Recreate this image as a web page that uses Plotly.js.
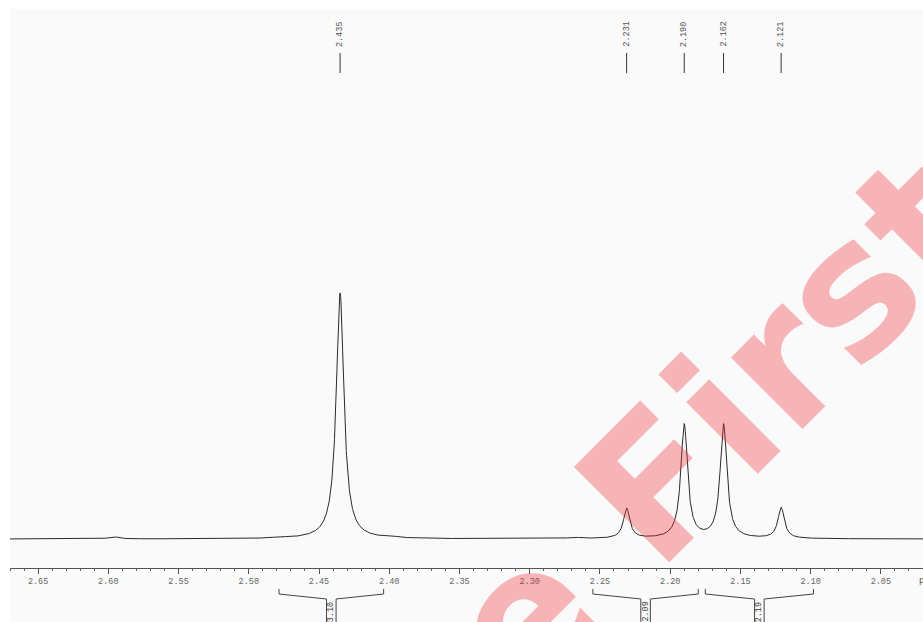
<!DOCTYPE html>
<html>
<head>
<meta charset="utf-8">
<script src="https://cdn.plot.ly/plotly-3.0.1.min.js"></script>
<style>
  html, body { margin: 0; padding: 0; background: #ffffff; }
  #plot { width: 923px; height: 622px; }
</style>
</head>
<body>
<div id="plot"></div>
<script>
// 1H NMR excerpt, 2.02 - 2.67 ppm
// Labelled peaks: chemical shift (ppm), height above baseline, line width (ppm)
const peakPpm    = [2.435, 2.231, 2.190, 2.162, 2.121];
const peakHeight = [246, 30, 114, 114, 31];
const peakWidth  = [0.0066, 0.0055, 0.0058, 0.0058, 0.0055];

// Tiny unlabelled bumps in the baseline
const bumpPpm    = [2.596, 2.478, 2.398, 2.268];
const bumpHeight = [2.2, 1.0, 1.2, 1.3];
const bumpWidth  = [0.008, 0.010, 0.010, 0.010];

// Integration regions (ppm) and their integral values
const intStart = [2.4785, 2.255, 2.175];
const intEnd   = [2.404, 2.180, 2.098];
const intValue = ['3.10', '2.09', '2.19'];

const peakLabels = peakPpm.map(p => p.toFixed(3));

// Spectrum: sum of Lorentzian lines on a fine ppm grid
const allPpm = peakPpm.concat(bumpPpm);
const allH = peakHeight.concat(bumpHeight);
const allW = peakWidth.concat(bumpWidth);
const xs = [], ys = [];
for (let p = 2.672; p >= 2.018; p -= 0.0002) {
  let v = 0;
  for (let i = 0; i < allPpm.length; i++) {
    const d = 2 * (p - allPpm[i]) / allW[i];
    v += allH[i] / (1 + d * d);
  }
  xs.push(p); ys.push(v);
}

const H = 622, TOP = 9, LEFT = 10, W = 923;
const py = y => (H - y) / (H - TOP);     // page pixel row -> paper fraction
const px = x => (x - LEFT) / (W - LEFT); // page pixel column -> paper fraction

const shapes = [];
const annotations = [];
const mono = 'Liberation Mono, monospace';

// Peak pick markers and labels
peakPpm.forEach((p, i) => {
  shapes.push({ type: 'line', xref: 'x', yref: 'paper', x0: p, x1: p,
    y0: py(73), y1: py(53), line: { color: '#333', width: 1 } });
  annotations.push({ xref: 'x', yref: 'paper', x: p, y: py(34), xanchor: 'center', yanchor: 'middle',
    text: peakLabels[i], textangle: -90, showarrow: false,
    font: { family: mono, size: 8.5, color: '#555' } });
});

// Integral brackets with value boxes
const half = 0.0034;
intStart.forEach((s, i) => {
  const e = intEnd[i], m = (s + e) / 2;
  const path = `M ${s} ${py(589)} L ${s} ${py(594)} L ${m + half} ${py(599)} L ${m + half} ${py(622)} ` +
               `M ${e} ${py(589)} L ${e} ${py(594)} L ${m - half} ${py(599)} L ${m - half} ${py(622)}`;
  shapes.push({ type: 'path', xref: 'x', yref: 'paper', path: path, line: { color: '#444', width: 1 } });
  annotations.push({ xref: 'x', yref: 'paper', x: m, y: py(612), xanchor: 'center', yanchor: 'middle',
    text: intValue[i], textangle: -90, showarrow: false,
    font: { family: mono, size: 8.5, color: '#444' } });
});

// Axis unit
annotations.push({ xref: 'paper', yref: 'paper', x: px(917), y: py(581), xanchor: 'left', yanchor: 'middle',
  text: 'ppm', showarrow: false, font: { family: mono, size: 9, color: '#555' } });

// Watermark
annotations.push({ xref: 'paper', yref: 'paper', x: px(714), y: py(427), xanchor: 'center', yanchor: 'middle',
  text: '<b>e First</b>', textangle: -45, showarrow: false,
  font: { family: 'DejaVu Sans, sans-serif', size: 185, color: 'rgba(240,40,50,0.33)' } });

const trace = {
  x: xs, y: ys, type: 'scatter', mode: 'lines',
  line: { color: '#2a2a2a', width: 1 }, hoverinfo: 'skip'
};

const layout = {
  width: W, height: H,
  margin: { l: LEFT, r: 0, t: TOP, b: 0, pad: 0 },
  paper_bgcolor: '#ffffff', plot_bgcolor: '#fafafa',
  showlegend: false,
  xaxis: {
    range: [2.670, 2.020], anchor: 'free', position: py(568),
    showgrid: false, zeroline: false, showline: true, linecolor: '#555', linewidth: 1,
    ticks: 'outside', ticklen: 5, tickcolor: '#555', dtick: 0.05, tick0: 2.0,
    tickformat: '.2f',
    tickfont: { family: mono, size: 8.5, color: '#666' },
    minor: { dtick: 0.01, ticks: 'outside', ticklen: 2, tickcolor: '#666' }
  },
  yaxis: { range: [-83, 530], visible: false, fixedrange: true },
  shapes: shapes,
  annotations: annotations
};

Plotly.newPlot('plot', [trace], layout, { staticPlot: true });
</script>
</body>
</html>
